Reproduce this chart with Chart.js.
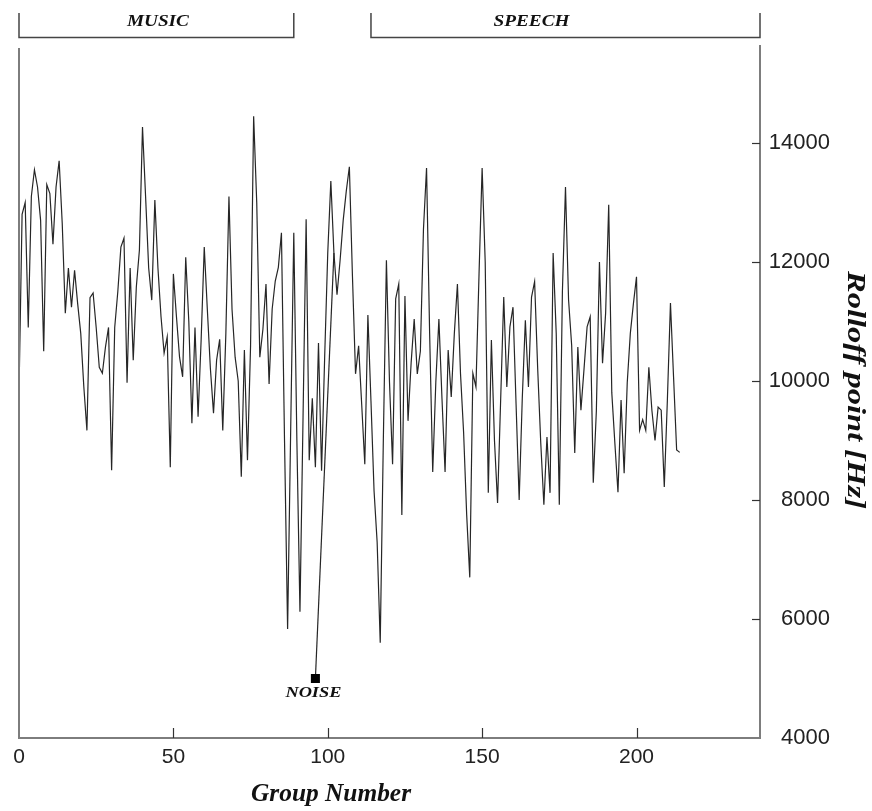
<!DOCTYPE html>
<html>
<head>
<meta charset="utf-8">
<script src="https://cdn.jsdelivr.net/npm/chart.js@4.4.0/dist/chart.umd.min.js"></script>
<style>
  html, body { margin: 0; padding: 0; background: #fff; }
  #wrap { width: 872px; height: 811px; }
</style>
</head>
<body>
<div id="wrap"><canvas id="rolloffChart" width="872" height="811"></canvas></div>
<script>
// Rolloff point per group (Hz), group 0..214
const rolloff = [
  9800, 12800, 13000, 10900, 13100, 13550, 13260, 12700, 10500, 13300,
  13150, 12300, 13260, 13700, 12650, 11140, 11900, 11240, 11860, 11300,
  10800, 9900, 9170, 11400, 11480, 10900, 10230, 10130, 10570, 10900,
  8500, 10900, 11500, 12250, 12400, 9970, 11900, 10350, 11580, 12200,
  14270, 13100, 11900, 11360, 13040, 11900, 11080, 10470, 10740, 8550,
  11800, 11080, 10400, 10070, 12080, 11000, 9290, 10900, 9400, 10700,
  12250, 11200, 10200, 9460, 10350, 10700, 9170, 10800, 13100, 11200,
  10400, 10000, 8390, 10520, 8670, 10590, 14450, 13000, 10400, 10870,
  11630, 9950, 11210, 11680, 11910, 12490, 9000, 5830, 9200, 12490,
  9000, 6120, 9400, 12720, 8670, 9710, 8550, 10640, 8490, 10400,
  12150, 13360, 12150, 11450, 12030, 12700, 13190, 13600, 11760, 10120,
  10590, 9600, 8600, 11110, 9660, 8150, 7290, 5600, 9000, 12030,
  9980, 8600, 11380, 11630, 7750, 11430, 9330, 10300, 11040, 10120,
  10500, 12550, 13580, 10800, 8470, 9980, 11040, 9700, 8470, 10520,
  9730, 10800, 11630, 10120, 9140, 7750, 6700, 10130, 9900, 11800,
  13580, 12000, 8120, 10690, 9000, 7950, 9680, 11410, 9900, 10910,
  11240, 9600, 8000, 9700, 11020, 9900, 11410, 11670, 10200, 8950,
  7920, 9060, 8120, 12150, 10800, 7920, 11500, 13260, 11360, 10600,
  8790, 10570, 9510, 10200, 10910, 11080, 8290, 9500, 12000, 10300,
  11140, 12960, 9800, 8950, 8130, 9680, 8450, 9970, 10800, 11300,
  11750, 9170, 9350, 9170, 10230, 9500, 9000, 9560, 9510, 8220,
  9680, 11310, 10070, 8840, 8800
];

// the single noise group and the point its line runs up to
const noiseGroup = [96, 102];
const noiseRolloff = [5000, 12150];

const xTicks = [0, 50, 100, 150, 200];
const yTicks = [4000, 6000, 8000, 10000, 12000, 14000];

// bracketed sections above the plot
const segmentNames = ['MUSIC', 'SPEECH'];
const segmentFrom = [0, 114];
const segmentTo = [89, 240];
const segmentLabelAt = [45, 166];

const serif = '"Liberation Serif", "DejaVu Serif", serif';
const sans = '"Liberation Sans", Arial, sans-serif';

// draws text squeezed/stretched to a given width, like the scanned figure
function drawFitted(ctx, text, cx, cy, font, width, rotation) {
    ctx.save();
    ctx.font = font;
    const w = ctx.measureText(text).width;
    ctx.translate(cx, cy);
    ctx.rotate(rotation || 0);
    ctx.scale(width / w, 1);
    ctx.textAlign = 'center';
    ctx.textBaseline = 'middle';
    ctx.fillText(text, 0, 0);
    ctx.restore();
}

const decorations = {
    id: 'decorations',
    afterDraw(chart) {
        const { ctx, chartArea } = chart;
        const x = chart.scales.x;
        const y = chart.scales.y;
        ctx.save();

        // left frame line
        ctx.strokeStyle = '#7d7d7d';
        ctx.lineWidth = 2;
        ctx.beginPath();
        ctx.moveTo(chartArea.left, chartArea.top + 2);
        ctx.lineTo(chartArea.left, chartArea.bottom);
        ctx.stroke();

        // tick marks pointing into the plot
        ctx.strokeStyle = '#333';
        ctx.lineWidth = 1.2;
        yTicks.forEach(v => {
            if (v === y.min) return;
            const py = Math.round(y.getPixelForValue(v)) + 0.5;
            ctx.beginPath();
            ctx.moveTo(chartArea.right, py);
            ctx.lineTo(chartArea.right - 8, py);
            ctx.stroke();
        });
        xTicks.forEach(v => {
            if (v === x.min) return;
            const px = Math.round(x.getPixelForValue(v)) + 0.5;
            ctx.beginPath();
            ctx.moveTo(px, chartArea.bottom);
            ctx.lineTo(px, chartArea.bottom - 10);
            ctx.stroke();
        });

        // section brackets
        ctx.strokeStyle = '#444';
        ctx.lineWidth = 1.5;
        ctx.fillStyle = '#111';
        segmentNames.forEach((name, i) => {
            const x0 = x.getPixelForValue(segmentFrom[i]);
            const x1 = x.getPixelForValue(segmentTo[i]);
            ctx.beginPath();
            ctx.moveTo(x0, 13);
            ctx.lineTo(x0, 37.5);
            ctx.lineTo(x1, 37.5);
            ctx.lineTo(x1, 13);
            ctx.stroke();
            const w = name === 'MUSIC' ? 62 : 76;
            drawFitted(ctx, name, x.getPixelForValue(segmentLabelAt[i]), 22,
                'italic bold 17px ' + serif, w);
        });

        // noise label
        drawFitted(ctx, 'NOISE', x.getPixelForValue(noiseGroup[0]) - 2,
            y.getPixelForValue(noiseRolloff[0]) + 15, 'italic bold 15px ' + serif, 56);

        // axis titles
        drawFitted(ctx, 'Group Number', 331, 794, 'italic bold 26px ' + serif, 160);
        drawFitted(ctx, 'Rolloff point [Hz]', 854, 390, 'italic bold 25px ' + serif, 238, Math.PI / 2);

        ctx.restore();
    }
};

const ctx = document.getElementById('rolloffChart').getContext('2d');
new Chart(ctx, {
    type: 'line',
    data: {
        datasets: [{
            label: 'Rolloff point',
            data: rolloff.map((v, i) => ({ x: i, y: v })),
            borderColor: '#262626',
            borderWidth: 1.2,
            pointRadius: 0,
            tension: 0
        }, {
            label: 'Noise',
            data: noiseGroup.map((g, i) => ({ x: g, y: noiseRolloff[i] })),
            borderColor: '#262626',
            borderWidth: 1.2,
            pointStyle: 'rect',
            pointRadius: [6.4, 0],
            pointBackgroundColor: '#000',
            pointBorderWidth: 0,
            tension: 0
        }]
    },
    options: {
        responsive: false,
        animation: false,
        devicePixelRatio: 1,
        // right padding leaves room for the rotated title drawn by the plugin
        layout: { padding: { top: 46, left: 19, right: 42, bottom: 0 } },
        plugins: {
            legend: { display: false },
            tooltip: { enabled: false }
        },
        scales: {
            x: {
                type: 'linear',
                min: 0,
                max: 240,
                grid: { display: false, drawTicks: false },
                border: { display: true, color: '#7d7d7d', width: 2 },
                ticks: {
                    padding: 7,
                    color: '#222',
                    font: { family: sans, size: 21 },
                    callback: v => String(v)
                },
                afterBuildTicks: scale => { scale.ticks = xTicks.map(v => ({ value: v })); },
                afterFit: scale => { scale.height = 73; }
            },
            y: {
                position: 'right',
                min: 4000,
                max: 15630,
                grid: { display: false, drawTicks: false },
                border: { display: true, color: '#7d7d7d', width: 2 },
                ticks: {
                    padding: 8,
                    crossAlign: 'far',
                    color: '#222',
                    font: { family: sans, size: 22 },
                    callback: v => String(v)
                },
                afterBuildTicks: scale => { scale.ticks = yTicks.map(v => ({ value: v })); },
                afterFit: scale => { scale.width = 70; }
            }
        }
    },
    plugins: [decorations]
});
</script>
</body>
</html>
